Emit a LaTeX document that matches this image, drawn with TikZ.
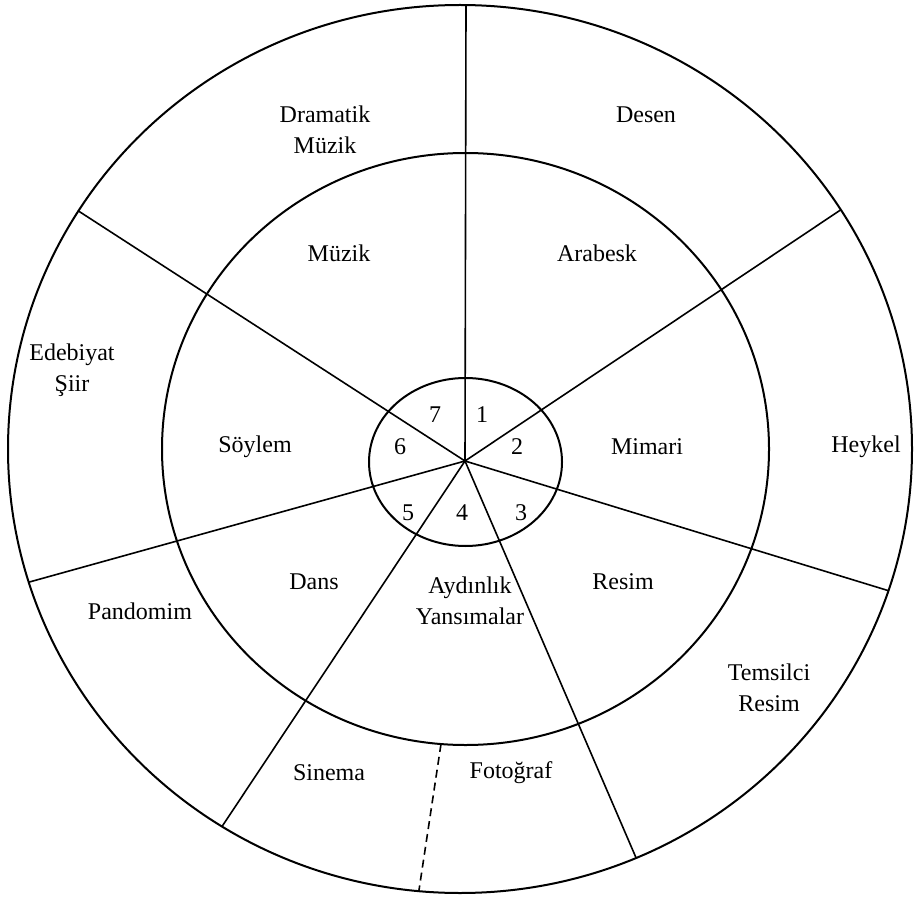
\documentclass[tikz,border=0pt]{standalone}
\usepackage{fontspec}
\setmainfont{Liberation Serif}
\usetikzlibrary{positioning}

\tikzset{
  ring/.style={line width=1pt},
  spoke/.style={line width=0.8pt},
  lbl/.style={align=center, inner sep=0pt, font=\fontsize{12}{15.5}\selectfont},
}

\begin{document}
\begin{tikzpicture}[x=0.5pt, y=-0.5pt]
  \useasboundingbox (0,0) rectangle (914,898);

  % rings
  \draw[ring] (460,449) ellipse [x radius=452, y radius=444];
  \draw[ring] (465.5,449) ellipse [x radius=303.5, y radius=296];
  \draw[ring] (465.5,462) ellipse [x radius=96.5, y radius=84];

  % centre and outer ends of the spokes
  \coordinate (c) at (465,461);
  \coordinate (o1) at (466,5);
  \coordinate (o2) at (836,213);
  \coordinate (o3) at (896,593);
  \coordinate (o4) at (637,860);
  \coordinate (o5) at (225,822);
  \coordinate (o6) at (33,581);
  \coordinate (o7) at (80,212);
  \coordinate (d1) at (441,744);
  \coordinate (d2) at (419,890);

  \begin{scope}
    \clip (460,449) ellipse [x radius=452, y radius=444];
    \foreach \i in {1,...,7}
      \draw[spoke, shorten >=-8pt] (c) -- (o\i);
    \draw[spoke, dash pattern=on 4pt off 2.5pt, shorten >=-8pt] (d1) -- (d2);
  \end{scope}

  % outer ring
  \node[lbl] (dramatik) at (325,130) {Dramatik\\Müzik};
  \node[lbl] (desen) at (646,115) {Desen};
  \node[lbl] (edebiyat) at (72,370) {Edebiyat\\Şiir};
  \node[lbl] (heykel) at (866,447) {Heykel};
  \node[lbl] (pandomim) at (140,611) {Pandomim};
  \node[lbl] (temsilci) at (769,688) {Temsilci\\Resim};
  \node[lbl] (sinema) at (329,773) {Sinema};
  \node[lbl] (fotograf) at (511,773) {Fotoğraf};

  % middle ring
  \node[lbl] (muzik) at (339,253) {Müzik};
  \node[lbl] (arabesk) at (597,253) {Arabesk};
  \node[lbl] (soylem) at (255,447) {Söylem};
  \node[lbl] (mimari) at (647,447) {Mimari};
  \node[lbl] (dans) at (314,582) {Dans};
  \node[lbl] (aydinlik) at (470,601) {Aydınlık\\Yansımalar};
  \node[lbl] (resim) at (623,582) {Resim};

  % inner ring
  \node[lbl] (n1) at (482,415) {1};
  \node[lbl] (n2) at (517,447) {2};
  \node[lbl] (n3) at (521,513) {3};
  \node[lbl] (n4) at (462,513) {4};
  \node[lbl] (n5) at (408,513) {5};
  \node[lbl] (n6) at (400,447) {6};
  \node[lbl] (n7) at (435,415) {7};
\end{tikzpicture}
\end{document}
